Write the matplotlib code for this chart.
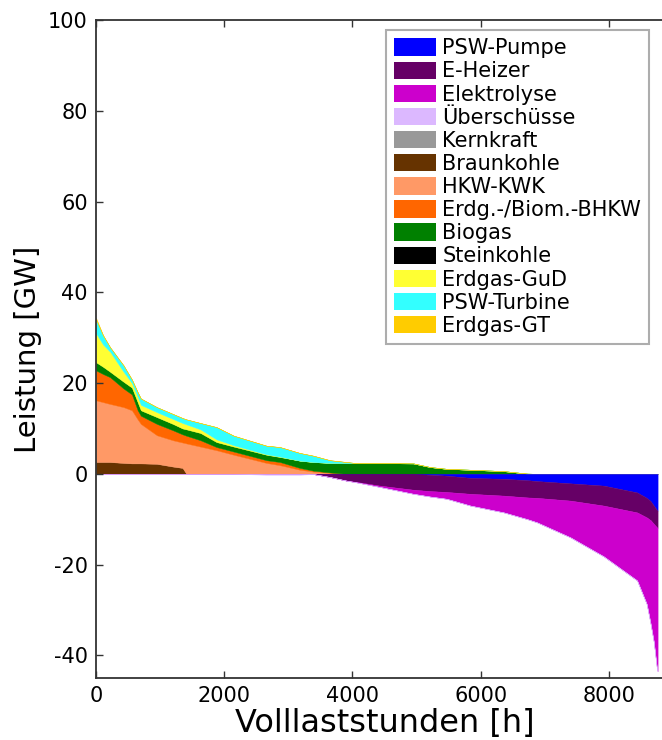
import numpy as np
import matplotlib
matplotlib.use("Agg")
import matplotlib.pyplot as plt
from matplotlib.patches import Patch

plt.rcParams['font.family'] = ['DejaVu Sans']
plt.rcParams['axes.unicode_minus'] = False

# Volllaststunden (sortierte Dauerlinie), Stuetzstellen in h
hours = [0, 110, 220, 430, 560, 650, 700, 950, 1200, 1350,
         1410, 1630, 1880, 2150, 2660, 2870, 3180, 3390, 3650, 3910,
         4070, 4430, 4950, 5210, 5470, 5840, 6360, 6730, 6880, 7400,
         7920, 8440, 8590, 8650, 8700, 8750, 8760]

# Erzeugung (positiv, von unten nach oben gestapelt) in GW
kernkraft = [0, 0, 0, 0, 0, 0, 0, 0, 0, 0,
             0, 0, 0, 0, 0, 0, 0, 0, 0, 0,
             0, 0, 0, 0, 0, 0, 0, 0, 0, 0,
             0, 0, 0, 0, 0, 0, 0]
braunkohle = [2.6, 2.6, 2.6, 2.4, 2.3, 2.3, 2.3, 2.2, 1.6, 1.3,
              0, 0, 0, 0, 0, 0, 0, 0, 0, 0,
              0, 0, 0, 0, 0, 0, 0, 0, 0, 0,
              0, 0, 0, 0, 0, 0, 0]
hkw_kwk = [13.6, 13.2, 12.8, 12.3, 11.7, 9.7, 8.7, 6.3, 5.8, 5.6,
           6.7, 6.0, 5.2, 4.2, 2.4, 1.9, 0.9, 0.5, 0.2, 0,
           0, 0, 0, 0, 0, 0, 0, 0, 0, 0,
           0, 0, 0, 0, 0, 0, 0]
bhkw = [6.6, 6.2, 5.9, 4.1, 3.5, 2.0, 1.8, 2.5, 2.2, 1.8,
        1.7, 1.4, 0.7, 0.7, 0.6, 0.7, 0.4, 0.2, 0.1, 0,
        0, 0, 0, 0, 0, 0, 0, 0, 0, 0,
        0, 0, 0, 0, 0, 0, 0]
biogas = [1.8, 1.6, 1.2, 1.5, 1.5, 1.8, 1.2, 1.5, 1.4, 1.3,
          1.4, 1.6, 1.1, 1.1, 1.2, 1.1, 1.6, 1.9, 2.1, 2.35,
          2.35, 2.35, 2.3, 1.5, 1.1, 0.9, 0.6, 0.05, 0, 0,
          0, 0, 0, 0, 0, 0, 0]
steinkohle = [0, 0, 0, 0, 0, 0, 0, 0, 0, 0,
              0, 0, 0, 0, 0, 0, 0, 0, 0, 0,
              0, 0, 0, 0, 0, 0, 0, 0, 0, 0,
              0, 0, 0, 0, 0, 0, 0]
erdgas_gud = [6.4, 4.9, 4.4, 2.2, 1.0, 1.2, 1.2, 1.1, 1.1, 1.2,
              1.1, 0.8, 0.6, 0.3, 0.1, 0.1, 0, 0, 0, 0,
              0, 0, 0, 0, 0, 0, 0, 0, 0, 0,
              0, 0, 0, 0, 0, 0, 0]
psw_turbine = [3.0, 2.0, 1.0, 1.4, 0.8, 1.0, 1.4, 1.1, 1.1, 1.1,
               1.1, 1.4, 2.7, 2.1, 1.9, 2.1, 1.7, 1.4, 0.6, 0.25,
               0, 0, 0, 0, 0, 0, 0, 0, 0, 0,
               0, 0, 0, 0, 0, 0, 0]
erdgas_gt = [0.4, 0.1, 0, 0, 0, 0, 0, 0, 0, 0,
             0, 0, 0, 0, 0, 0, 0, 0, 0, 0,
             0, 0, 0, 0, 0, 0, 0, 0, 0, 0,
             0, 0, 0, 0, 0, 0, 0]

# Verbrauch / Ueberschuss (negativ, von 0 nach unten gestapelt) in GW
psw_pumpe = [0, 0, 0, 0, 0, 0, 0, 0, 0, 0,
             0, 0, 0, 0, 0, 0, 0, 0, 0, 0,
             0, 0, 0, 0.2, 0.4, 0.9, 1.1, 1.4, 1.6, 2.1,
             2.6, 4.1, 5.3, 6.0, 7.0, 8.0, 8.1]
e_heizer = [0, 0, 0, 0, 0, 0, 0, 0, 0, 0,
            0, 0, 0, 0, 0, 0, 0, 0.05, 0.7, 1.5,
            1.8, 2.6, 3.5, 3.6, 3.6, 3.5, 3.7, 3.8, 3.7, 3.8,
            4.4, 4.4, 4.3, 4.2, 4.0, 3.8, 3.8]
elektrolyse = [0, 0, 0, 0, 0, 0, 0, 0, 0, 0,
               0, 0, 0, 0, 0, 0, 0, 0, 0, 0,
               0.1, 0.3, 0.9, 1.2, 1.5, 2.6, 3.7, 4.8, 5.4, 8.1,
               11.2, 15.0, 19.1, 22.8, 26.0, 31.2, 31.6]
ueberschuesse = [0, 0, 0, 0, 0, 0, 0, 0, 0, 0,
                 0, 0, 0, 0, 0.2, 0.2, 0.2, 0, 0, 0,
                 0, 0, 0, 0, 0, 0, 0, 0, 0, 0,
                 0, 0, 0, 0, 0, 0, 0]

labels = ['PSW-Pumpe', 'E-Heizer', 'Elektrolyse', 'Überschüsse', 'Kernkraft',
          'Braunkohle', 'HKW-KWK', 'Erdg.-/Biom.-BHKW', 'Biogas', 'Steinkohle',
          'Erdgas-GuD', 'PSW-Turbine', 'Erdgas-GT']
colors = ['#0000ff', '#660066', '#cc00cc', '#dcb8ff', '#999999',
          '#663300', '#ff9966', '#ff6600', '#008000', '#000000',
          '#ffff33', '#33ffff', '#ffcc00']

pos_series = [kernkraft, braunkohle, hkw_kwk, bhkw, biogas, steinkohle,
              erdgas_gud, psw_turbine, erdgas_gt]
pos_colors = colors[4:]
neg_series = [psw_pumpe, e_heizer, elektrolyse, ueberschuesse]
neg_colors = colors[:4]

fig = plt.figure(figsize=(6.62, 7.40), dpi=100)
ax = fig.add_axes([0.145, 0.0838, 0.8716, 0.889])

x = np.array(hours, dtype=float)
base = np.zeros(len(x))
for s, c in zip(pos_series, pos_colors):
    top = base + np.array(s, dtype=float)
    if np.any(top > base):
        ax.fill_between(x, base, top, facecolor=c, edgecolor=c, linewidth=0.3)
    base = top

base = np.zeros(len(x))
for s, c in zip(neg_series, neg_colors):
    bot = base - np.array(s, dtype=float)
    if np.any(bot < base):
        ax.fill_between(x, base, bot, facecolor=c, edgecolor=c, linewidth=0.3)
    base = bot

ax.set_xlim(0, 9000)
ax.set_ylim(-45, 100)
ax.set_xticks([0, 2000, 4000, 6000, 8000])
ax.set_yticks([-40, -20, 0, 20, 40, 60, 80, 100])
ax.tick_params(direction='in', length=5, width=1, top=True, right=True,
               labelsize=15, pad=6, colors='#333333', labelcolor='black')
for sp in ax.spines.values():
    sp.set_color('#333333')
    sp.set_linewidth(1.3)

ax.set_xlabel('Volllaststunden [h]', fontsize=23, labelpad=1)
ax.set_ylabel('Leistung [GW]', fontsize=21, labelpad=4)

handles = [Patch(facecolor=c, edgecolor='none') for c in colors]
leg = ax.legend(handles, labels, loc='upper left',
                bbox_to_anchor=(386 / 662, 1 - 30 / 740),
                bbox_transform=fig.transFigure, borderaxespad=0,
                fontsize=15, frameon=True, fancybox=False,
                handlelength=2.0, handleheight=0.9, handletextpad=0.3,
                labelspacing=0.15, borderpad=0.4)
leg.get_frame().set_edgecolor('#999999')
leg.get_frame().set_linewidth(1.5)

fig.savefig('out.png', dpi=100)
